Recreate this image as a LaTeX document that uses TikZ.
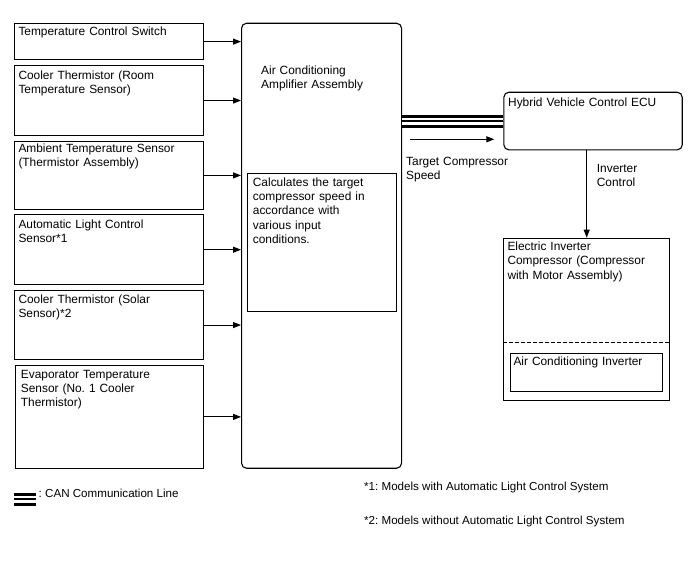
\documentclass[tikz,border=0pt]{standalone}
\usepackage{fontspec}
\setmainfont{Liberation Sans}
\usetikzlibrary{arrows.meta}
\begin{document}
\frenchspacing\hyphenpenalty=10000\exhyphenpenalty=10000
\begin{tikzpicture}[x=1pt,y=-1pt,
  box/.style={draw=black, line width=1.1pt, anchor=north west, inner sep=0pt},
  rbox/.style={box, rounded corners=5pt},
  txt/.style={anchor=base west, inner sep=0pt, align=left, text width=#1, font=\fontsize{11.9}{14.2}\selectfont},
  txt/.default=180pt,
  foot/.style={anchor=base west, inner sep=0pt, font=\fontsize{11.6}{14}\selectfont},
  arr/.style={draw=black, line width=1pt, -{Triangle[length=8pt,width=6pt]}},
  can/.style={draw=black, line width=13pt, postaction={draw=white, line width=7pt}, postaction={draw=black, line width=1.2pt}}
]
\useasboundingbox (0,0) rectangle (688,560);

% input boxes
\node[box, minimum width=188.5pt, minimum height=36.5pt] (b1) at (14,22.8) {};
\node[box, minimum width=188.5pt, minimum height=70pt] (b2) at (14,65) {};
\node[box, minimum width=188.5pt, minimum height=68.3pt] (b3) at (14,140.7) {};
\node[box, minimum width=188.5pt, minimum height=69.7pt] (b4) at (14,214.3) {};
\node[box, minimum width=188.5pt, minimum height=69pt] (b5) at (14,290) {};
\node[box, minimum width=188pt, minimum height=102.7pt] (b6) at (15,365) {};

\node[txt] (t1) at (18.3,35) {Temperature Control Switch};
\node[txt] (t2) at (18.3,79) {Cooler Thermistor (Room\\Temperature Sensor)};
\node[txt] (t3) at (18.3,152.5) {Ambient Temperature Sensor\\(Thermistor Assembly)};
\node[txt] (t4) at (18.3,228) {Automatic Light Control\\Sensor*1};
\node[txt] (t5) at (18.3,303) {Cooler Thermistor (Solar\\Sensor)*2};
\node[txt] (t6) at (20.7,378) {Evaporator Temperature\\Sensor (No. 1 Cooler\\Thermistor)};

% main amplifier box
\node[rbox, minimum width=160pt, minimum height=445pt] (main) at (241,22.7) {};
\node[txt=130pt] (tm) at (261,74.5) {Air Conditioning\\Amplifier Assembly};
\node[box, minimum width=148.7pt, minimum height=137.4pt] (calc) at (247.3,173.3) {};
\node[txt=140pt] (tc) at (252.7,186.5) {Calculates the target\\compressor speed in\\accordance with\\various input\\conditions.};

% input arrows
\foreach \b in {b1,b2,b3,b4,b5,b6}
  \draw[arr] (\b.east) -- (\b.east -| main.west);

% ECU
\node[rbox, minimum width=178.4pt, minimum height=57.6pt] (ecu) at (503.3,91.7) {};
\node[txt] (te) at (508,106.5) {Hybrid Vehicle Control ECU};

% CAN line
\draw[can] (ecu.west) -- (ecu.west -| main.east);

% target compressor speed arrow
\coordinate (ts1) at (410,139.3);
\coordinate (ts2) at (494.3,139.3);
\draw[arr] (ts1) -- (ts2);
\node[txt=140pt] (tt) at (406,165) {Target Compressor\\Speed};

% compressor
\node[box, minimum width=166pt, minimum height=162.3pt] (comp) at (503.3,237.7) {};
\node[txt=160pt] (tcp) at (507.3,250.7) {Electric Inverter\\Compressor (Compressor\\with Motor Assembly)};
\coordinate (dl) at (503.3,342.7);
\coordinate (dr) at (669.3,342.7);
\draw[line width=1.1pt, dash pattern=on 4pt off 2pt] (dl) -- (dr);
\node[box, minimum width=152.3pt, minimum height=37.4pt] (inv) at (510,353.3) {};
\node[txt=150pt] (ti) at (513.3,365.5) {Air Conditioning Inverter};

% inverter control arrow
\draw[arr] (ecu.south -| 586.7,0) -- (comp.north -| 586.7,0);
\node[txt=80pt] (tic) at (596.7,172.7) {Inverter\\Control};

% legend
\coordinate (lg1) at (14,499);
\coordinate (lg2) at (36,499);
\draw[can] (lg1) -- (lg2);
\node[foot] (tl) at (38.5,497) {: CAN Communication Line};
\node[foot] (f1) at (364,490.5) {*1: Models with Automatic Light Control System};
\node[foot] (f2) at (364,524.5) {*2: Models without Automatic Light Control System};
\end{tikzpicture}
\end{document}
